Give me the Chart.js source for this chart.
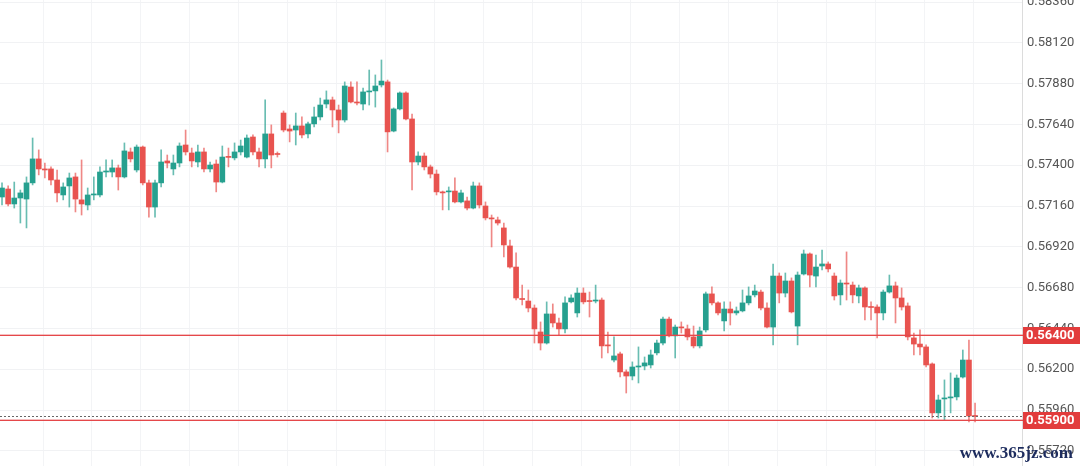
<!DOCTYPE html>
<html>
<head>
<meta charset="utf-8">
<script src="https://cdn.jsdelivr.net/npm/chart.js@4.4.0/dist/chart.umd.min.js"></script>
<style>
  html, body { margin: 0; padding: 0; background: #fff; }
  #wrap { width: 1080px; height: 466px; }
</style>
</head>
<body>
<div id="wrap"><canvas id="kline" width="1080" height="466"></canvas></div>
<script>
// candles (oldest first)
const candleOpen = [
  0.57213, 0.57260, 0.57172, 0.57207, 0.57201, 0.57296, 0.57437, 0.57378, 0.57378, 0.57313,
  0.57225, 0.57278, 0.57331, 0.57196, 0.57166, 0.57225, 0.57225, 0.57360, 0.57360, 0.57384,
  0.57331, 0.57478, 0.57372, 0.57507, 0.57296, 0.57154, 0.57296, 0.57425, 0.57378, 0.57413,
  0.57519, 0.57472, 0.57419, 0.57478, 0.57378, 0.57407, 0.57301, 0.57448, 0.57443, 0.57478,
  0.57448, 0.57566, 0.57478, 0.57437, 0.57584, 0.57466, 0.57707, 0.57613, 0.57607, 0.57631,
  0.57584, 0.57643, 0.57684, 0.57760, 0.57784, 0.57725, 0.57666, 0.57860, 0.57772, 0.57760,
  0.57831, 0.57837, 0.57872, 0.57890, 0.57601, 0.57731, 0.57825, 0.57672, 0.57419, 0.57454,
  0.57390, 0.57348, 0.57243, 0.57243, 0.57248, 0.57184, 0.57190, 0.57148, 0.57278, 0.57160,
  0.57090, 0.57078, 0.57031, 0.56925, 0.56801, 0.56613, 0.56601, 0.56560, 0.56419, 0.56354,
  0.56525, 0.56472, 0.56437, 0.56596, 0.56531, 0.56648, 0.56601, 0.56601, 0.56607, 0.56343,
  0.56254, 0.56290, 0.56184, 0.56160, 0.56213, 0.56219, 0.56225, 0.56296, 0.56354, 0.56495,
  0.56396, 0.56448, 0.56437, 0.56390, 0.56337, 0.56431, 0.56643, 0.56590, 0.56484, 0.56554,
  0.56531, 0.56543, 0.56590, 0.56637, 0.56654, 0.56560, 0.56448, 0.56748, 0.56648, 0.56719,
  0.56454, 0.56760, 0.56878, 0.56748, 0.56807, 0.56819, 0.56748, 0.56637, 0.56707, 0.56695,
  0.56631, 0.56678, 0.56566, 0.56566, 0.56531, 0.56654, 0.56690, 0.56619, 0.56572, 0.56384,
  0.56348, 0.56331, 0.56231, 0.55943, 0.56025, 0.56031, 0.56037, 0.56154, 0.56254, 0.55925
];
const candleHigh = [
  0.57296, 0.57278, 0.57301, 0.57254, 0.57331, 0.57560, 0.57490, 0.57413, 0.57390, 0.57372,
  0.57296, 0.57354, 0.57354, 0.57431, 0.57266, 0.57331, 0.57390, 0.57431, 0.57431, 0.57401,
  0.57531, 0.57501, 0.57519, 0.57513, 0.57313, 0.57313, 0.57490, 0.57460, 0.57460, 0.57531,
  0.57607, 0.57501, 0.57519, 0.57501, 0.57419, 0.57431, 0.57513, 0.57501, 0.57531, 0.57548,
  0.57578, 0.57578, 0.57501, 0.57784, 0.57637, 0.57478, 0.57719, 0.57637, 0.57707, 0.57684,
  0.57654, 0.57742, 0.57795, 0.57837, 0.57801, 0.57754, 0.57890, 0.57890, 0.57890, 0.57854,
  0.57960, 0.57931, 0.58019, 0.57901, 0.57737, 0.57831, 0.57831, 0.57701, 0.57478, 0.57472,
  0.57401, 0.57372, 0.57248, 0.57272, 0.57325, 0.57254, 0.57213, 0.57301, 0.57296, 0.57184,
  0.57107, 0.57095, 0.57060, 0.56960, 0.56884, 0.56695, 0.56666, 0.56578, 0.56478, 0.56596,
  0.56584, 0.56501, 0.56625, 0.56637, 0.56678, 0.56678, 0.56654, 0.56695, 0.56619, 0.56419,
  0.56390, 0.56301, 0.56196, 0.56243, 0.56331, 0.56272, 0.56313, 0.56372, 0.56507, 0.56507,
  0.56460, 0.56478, 0.56460, 0.56454, 0.56448, 0.56654, 0.56684, 0.56596, 0.56596, 0.56596,
  0.56566, 0.56666, 0.56684, 0.56695, 0.56666, 0.56590, 0.56819, 0.56766, 0.56766, 0.56737,
  0.56772, 0.56901, 0.56884, 0.56872, 0.56901, 0.56831, 0.56766, 0.56725, 0.56890, 0.56713,
  0.56695, 0.56684, 0.56596, 0.56578, 0.56666, 0.56754, 0.56713, 0.56678, 0.56590, 0.56413,
  0.56431, 0.56343, 0.56237, 0.56048, 0.56137, 0.56178, 0.56166, 0.56313, 0.56372, 0.56001
];
const candleLow = [
  0.57166, 0.57160, 0.57148, 0.57060, 0.57031, 0.57284, 0.57343, 0.57325, 0.57284, 0.57184,
  0.57196, 0.57154, 0.57125, 0.57107, 0.57137, 0.57196, 0.57213, 0.57331, 0.57331, 0.57254,
  0.57325, 0.57419, 0.57360, 0.57284, 0.57095, 0.57095, 0.57272, 0.57384, 0.57343, 0.57390,
  0.57460, 0.57390, 0.57390, 0.57360, 0.57360, 0.57243, 0.57296, 0.57390, 0.57431, 0.57460,
  0.57443, 0.57460, 0.57390, 0.57384, 0.57384, 0.57448, 0.57596, 0.57537, 0.57519, 0.57560,
  0.57560, 0.57625, 0.57666, 0.57737, 0.57625, 0.57590, 0.57654, 0.57766, 0.57754, 0.57725,
  0.57754, 0.57742, 0.57860, 0.57478, 0.57596, 0.57725, 0.57666, 0.57254, 0.57401, 0.57372,
  0.57325, 0.57225, 0.57137, 0.57137, 0.57178, 0.57178, 0.57137, 0.57143, 0.57148, 0.57078,
  0.56919, 0.57048, 0.56860, 0.56795, 0.56607, 0.56578, 0.56537, 0.56354, 0.56313, 0.56348,
  0.56448, 0.56401, 0.56413, 0.56590, 0.56507, 0.56584, 0.56507, 0.56590, 0.56266, 0.56296,
  0.56243, 0.56154, 0.56060, 0.56137, 0.56119, 0.56196, 0.56207, 0.56284, 0.56343, 0.56390,
  0.56266, 0.56413, 0.56372, 0.56325, 0.56325, 0.56419, 0.56578, 0.56519, 0.56425, 0.56460,
  0.56519, 0.56537, 0.56578, 0.56625, 0.56548, 0.56443, 0.56343, 0.56590, 0.56625, 0.56531,
  0.56343, 0.56754, 0.56684, 0.56684, 0.56784, 0.56772, 0.56607, 0.56578, 0.56607, 0.56590,
  0.56590, 0.56490, 0.56490, 0.56384, 0.56490, 0.56648, 0.56472, 0.56548, 0.56372, 0.56284,
  0.56284, 0.56213, 0.55913, 0.55913, 0.55902, 0.55943, 0.56019, 0.56148, 0.55890, 0.55890
];
const candleClose = [
  0.57266, 0.57172, 0.57207, 0.57237, 0.57296, 0.57437, 0.57378, 0.57372, 0.57313, 0.57237,
  0.57272, 0.57325, 0.57201, 0.57172, 0.57225, 0.57231, 0.57360, 0.57366, 0.57384, 0.57331,
  0.57484, 0.57437, 0.57507, 0.57296, 0.57154, 0.57296, 0.57419, 0.57413, 0.57413, 0.57513,
  0.57478, 0.57425, 0.57478, 0.57378, 0.57401, 0.57301, 0.57448, 0.57446, 0.57478, 0.57513,
  0.57560, 0.57478, 0.57437, 0.57584, 0.57460, 0.57463, 0.57607, 0.57601, 0.57631, 0.57578,
  0.57643, 0.57684, 0.57754, 0.57784, 0.57725, 0.57666, 0.57866, 0.57772, 0.57766, 0.57831,
  0.57837, 0.57866, 0.57895, 0.57596, 0.57731, 0.57825, 0.57672, 0.57419, 0.57454, 0.57390,
  0.57348, 0.57243, 0.57237, 0.57248, 0.57184, 0.57237, 0.57148, 0.57278, 0.57166, 0.57090,
  0.57084, 0.57060, 0.56931, 0.56801, 0.56619, 0.56610, 0.56560, 0.56437, 0.56354, 0.56525,
  0.56472, 0.56437, 0.56590, 0.56619, 0.56648, 0.56596, 0.56598, 0.56607, 0.56337, 0.56337,
  0.56278, 0.56184, 0.56160, 0.56213, 0.56219, 0.56237, 0.56284, 0.56354, 0.56495, 0.56396,
  0.56448, 0.56443, 0.56390, 0.56337, 0.56425, 0.56643, 0.56590, 0.56531, 0.56554, 0.56531,
  0.56543, 0.56590, 0.56631, 0.56660, 0.56560, 0.56448, 0.56748, 0.56648, 0.56719, 0.56537,
  0.56754, 0.56878, 0.56754, 0.56801, 0.56819, 0.56790, 0.56631, 0.56707, 0.56701, 0.56637,
  0.56678, 0.56566, 0.56563, 0.56531, 0.56654, 0.56690, 0.56619, 0.56566, 0.56390, 0.56348,
  0.56331, 0.56225, 0.55943, 0.56019, 0.56031, 0.56037, 0.56148, 0.56254, 0.55925, 0.55922
];

// price axis labels and the two marked levels
const priceTicks = [0.5572, 0.5596, 0.5620, 0.5644, 0.5668, 0.5692, 0.5716, 0.5740, 0.5764, 0.5788, 0.5812, 0.5836];
const levelLines = [0.5640, 0.5590];

const UP = '#26a08f';
const DOWN = '#e8534f';

const bodyData = candleOpen.map((o, i) => ({ x: i, y: [o, candleClose[i]] }));
const wickData = candleOpen.map((o, i) => ({ x: i, y: [candleLow[i], candleHigh[i]] }));
const candleColor = candleOpen.map((o, i) => (candleClose[i] >= o ? UP : DOWN));
const wickColor = candleColor.map(c => c + 'b0');

const levelsPlugin = {
  id: 'levels',
  afterDraw(chart) {
    const { ctx, chartArea } = chart;
    const y = chart.scales.y;
    ctx.save();
    // current price, dotted
    const last = candleClose[candleClose.length - 1];
    const py = Math.round(y.getPixelForValue(last));
    ctx.fillStyle = '#666';
    for (let x = chartArea.left; x < chartArea.right; x += 4) {
      ctx.fillRect(x, py, 2, 1);
    }
    levelLines.forEach(v => {
      const ly = Math.round(y.getPixelForValue(v));
      ctx.fillStyle = 'rgba(229,72,74,0.35)';
      ctx.fillRect(chartArea.left, ly - 1, chartArea.right - chartArea.left + 2, 1);
      ctx.fillStyle = '#e5484a';
      ctx.fillRect(chartArea.left, ly, chartArea.right - chartArea.left + 2, 1);
      // price label on the axis
      ctx.fillStyle = '#e23c3c';
      ctx.fillRect(chartArea.right + 1, ly - 8, 1080 - chartArea.right, 17);
      ctx.fillStyle = '#fff';
      ctx.font = 'bold 13px Roboto';
      ctx.textBaseline = 'middle';
      ctx.fillText(v.toFixed(5), chartArea.right + 4, ly + 1);
    });
    // watermark
    ctx.font = 'bold 17px "Liberation Serif"';
    ctx.fillStyle = '#1d2c5e';
    ctx.textAlign = 'right';
    ctx.textBaseline = 'alphabetic';
    ctx.fillText('www.365jz.com', 1073, 458);
    ctx.restore();
  }
};

new Chart(document.getElementById('kline'), {
  type: 'bar',
  data: {
    datasets: [
      {
        data: bodyData,
        backgroundColor: candleColor,
        barThickness: 5,
        minBarLength: 1,
        grouped: false,
        order: 0
      },
      {
        data: wickData,
        backgroundColor: wickColor,
        barThickness: 1,
        grouped: false,
        order: 1
      }
    ]
  },
  options: {
    responsive: false,
    animation: false,
    layout: { padding: 0 },
    plugins: {
      legend: { display: false },
      tooltip: { enabled: false }
    },
    scales: {
      x: {
        type: 'linear',
        min: -0.33,
        max: 166.67,
        offset: false,
        afterBuildTicks: (scale) => {
          const t = [];
          for (let v = 6.7; v < 166; v += 8) t.push({ value: v });
          scale.ticks = t;
        },
        afterFit: (scale) => {
          scale.height = 0;
          scale.paddingLeft = 0;
          scale.paddingRight = 0;
        },
        ticks: { display: false },
        grid: { color: '#f3f4f6', drawTicks: false, offset: false },
        border: { display: false }
      },
      y: {
        position: 'right',
        min: 0.556306,
        max: 0.583718,
        afterBuildTicks: (scale) => {
          scale.ticks = priceTicks.map(v => ({ value: v }));
        },
        afterFit: (scale) => {
          scale.width = 58;
          scale.paddingTop = 0;
          scale.paddingBottom = 0;
        },
        ticks: {
          autoSkip: false,
          padding: 5,
          color: '#555',
          font: { family: 'Roboto', size: 13 },
          callback: (v) => Number(v).toFixed(5)
        },
        grid: { color: '#f1f2f4', drawTicks: false },
        border: { display: true, color: '#dcdcdc' }
      }
    }
  },
  plugins: [levelsPlugin]
});
</script>
</body>
</html>
